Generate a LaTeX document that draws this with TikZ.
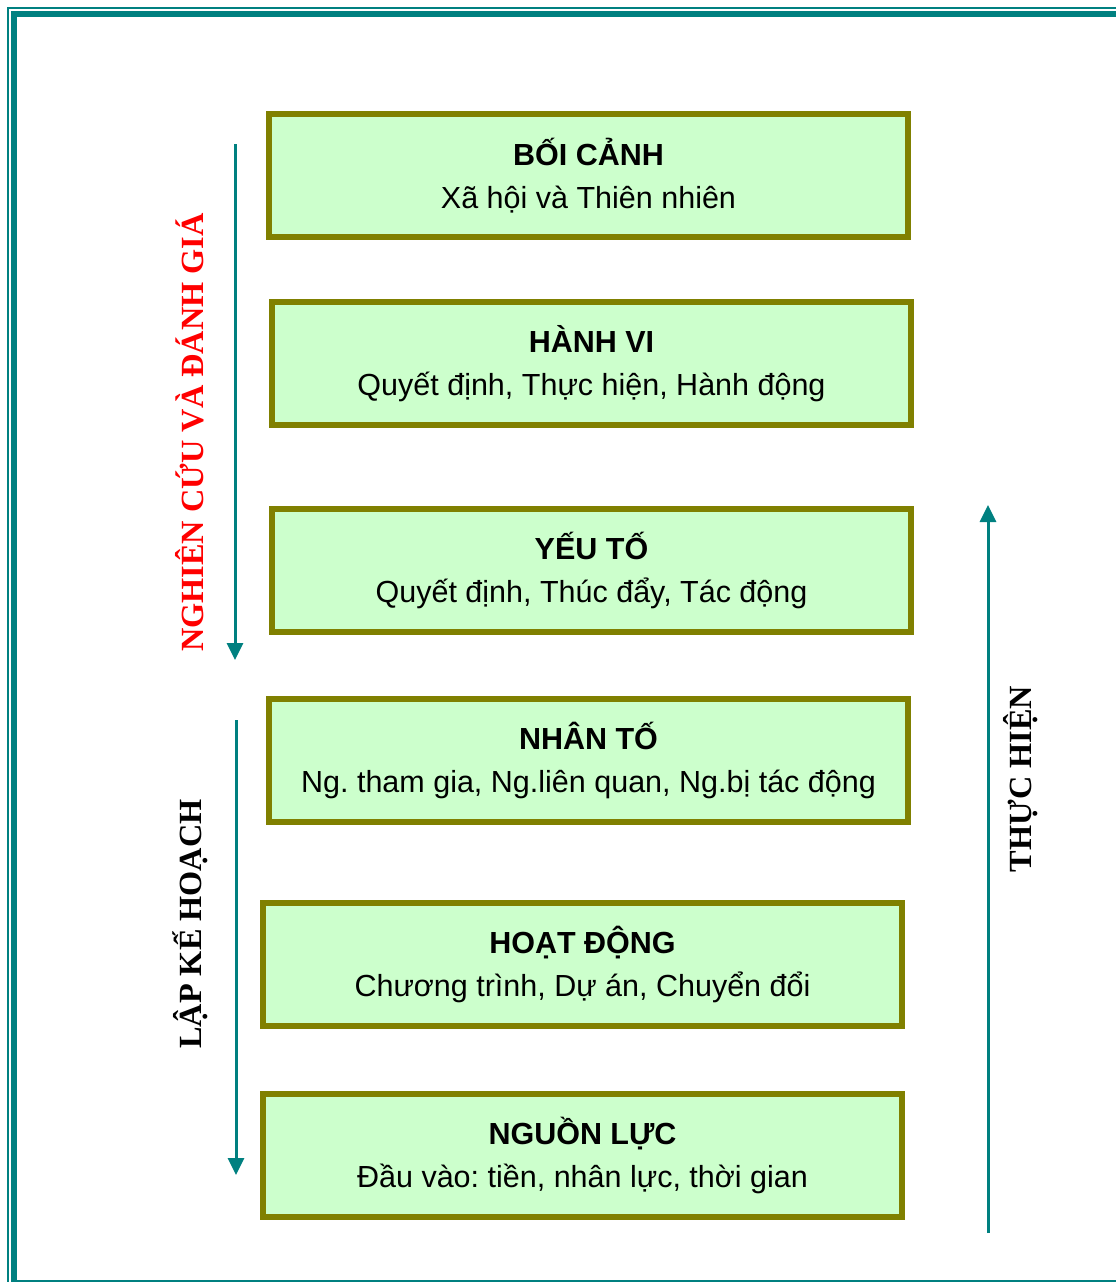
\documentclass[tikz,border=0pt]{standalone}
\usepackage{fontspec}
\setmainfont{Liberation Serif}
\newfontfamily\arialfont{Liberation Sans}
\usetikzlibrary{positioning, arrows.meta}

\definecolor{frameteal}{HTML}{008080}
\definecolor{boxborder}{HTML}{808000}
\definecolor{boxfill}{HTML}{CCFFCC}
\definecolor{labelred}{HTML}{FF0000}

\frenchspacing

\tikzset{
    block/.style={draw=boxborder, fill=boxfill, line width=6pt, minimum width=639pt,
        minimum height=123pt, inner sep=0pt, align=center,
        font=\arialfont\fontsize{30.5}{43.5}\selectfont},
    flow/.style={draw=frameteal, line width=3pt, -{Triangle[width=16pt,length=17pt]}},
    side/.style={rotate=90, font=\bfseries\fontsize{32.3}{36}\selectfont},
}

\begin{document}
\begin{tikzpicture}[x=1pt, y=-1pt]
    \useasboundingbox (0,0) rectangle (1116,1282);
    % double frame, cut at right and bottom
    \draw[frameteal, line width=2.5pt] (8,8) rectangle (1130,1295);
    \draw[frameteal, line width=6pt] (14,14) rectangle (1122,1283);

    \node[block] (boicanh) at (588.5,175.5) {\textbf{BỐI CẢNH}\\Xã hội và Thiên nhiên};
    \node[block] (hanhvi) [below=59pt of boicanh, xshift=3pt] {\textbf{HÀNH VI}\\Quyết định, Thực hiện, Hành động};
    \node[block] (yeuto) [below=78pt of hanhvi] {\textbf{YẾU TỐ}\\Quyết định, Thúc đẩy, Tác động};
    \node[block] (nhanto) [below=61pt of yeuto, xshift=-3pt] {\textbf{NHÂN TỐ}\\Ng. tham gia, Ng.liên quan, Ng.bị tác động};
    \node[block] (hoatdong) [below=75pt of nhanto, xshift=-6pt] {\textbf{HOẠT ĐỘNG}\\Chương trình, Dự án, Chuyển đổi};
    \node[block] (nguonluc) [below=62pt of hoatdong] {\textbf{NGUỒN LỰC}\\Đầu vào: tiền, nhân lực, thời gian};

    % arrows
    \coordinate (nc1) at (235,144);
    \coordinate (nc2) at (235,660);
    \coordinate (lk1) at (236,720);
    \coordinate (lk2) at (236,1175);
    \coordinate (th1) at (988,1233);
    \coordinate (th2) at (988,505);
    \draw[flow] (nc1) -- (nc2);
    \draw[flow] (lk1) -- (lk2);
    \draw[flow] (th1) -- (th2);

    \node[side, text=labelred] (nghiencuu) at (190,432.5) {NGHIÊN CỨU VÀ ĐÁNH GIÁ};
    \node[side] (lapkehoach) at (190,924) {LẬP KẾ HOẠCH};
    \node[side] (thuchien) at (1021,779) {THỰC HIỆN};
\end{tikzpicture}
\end{document}
